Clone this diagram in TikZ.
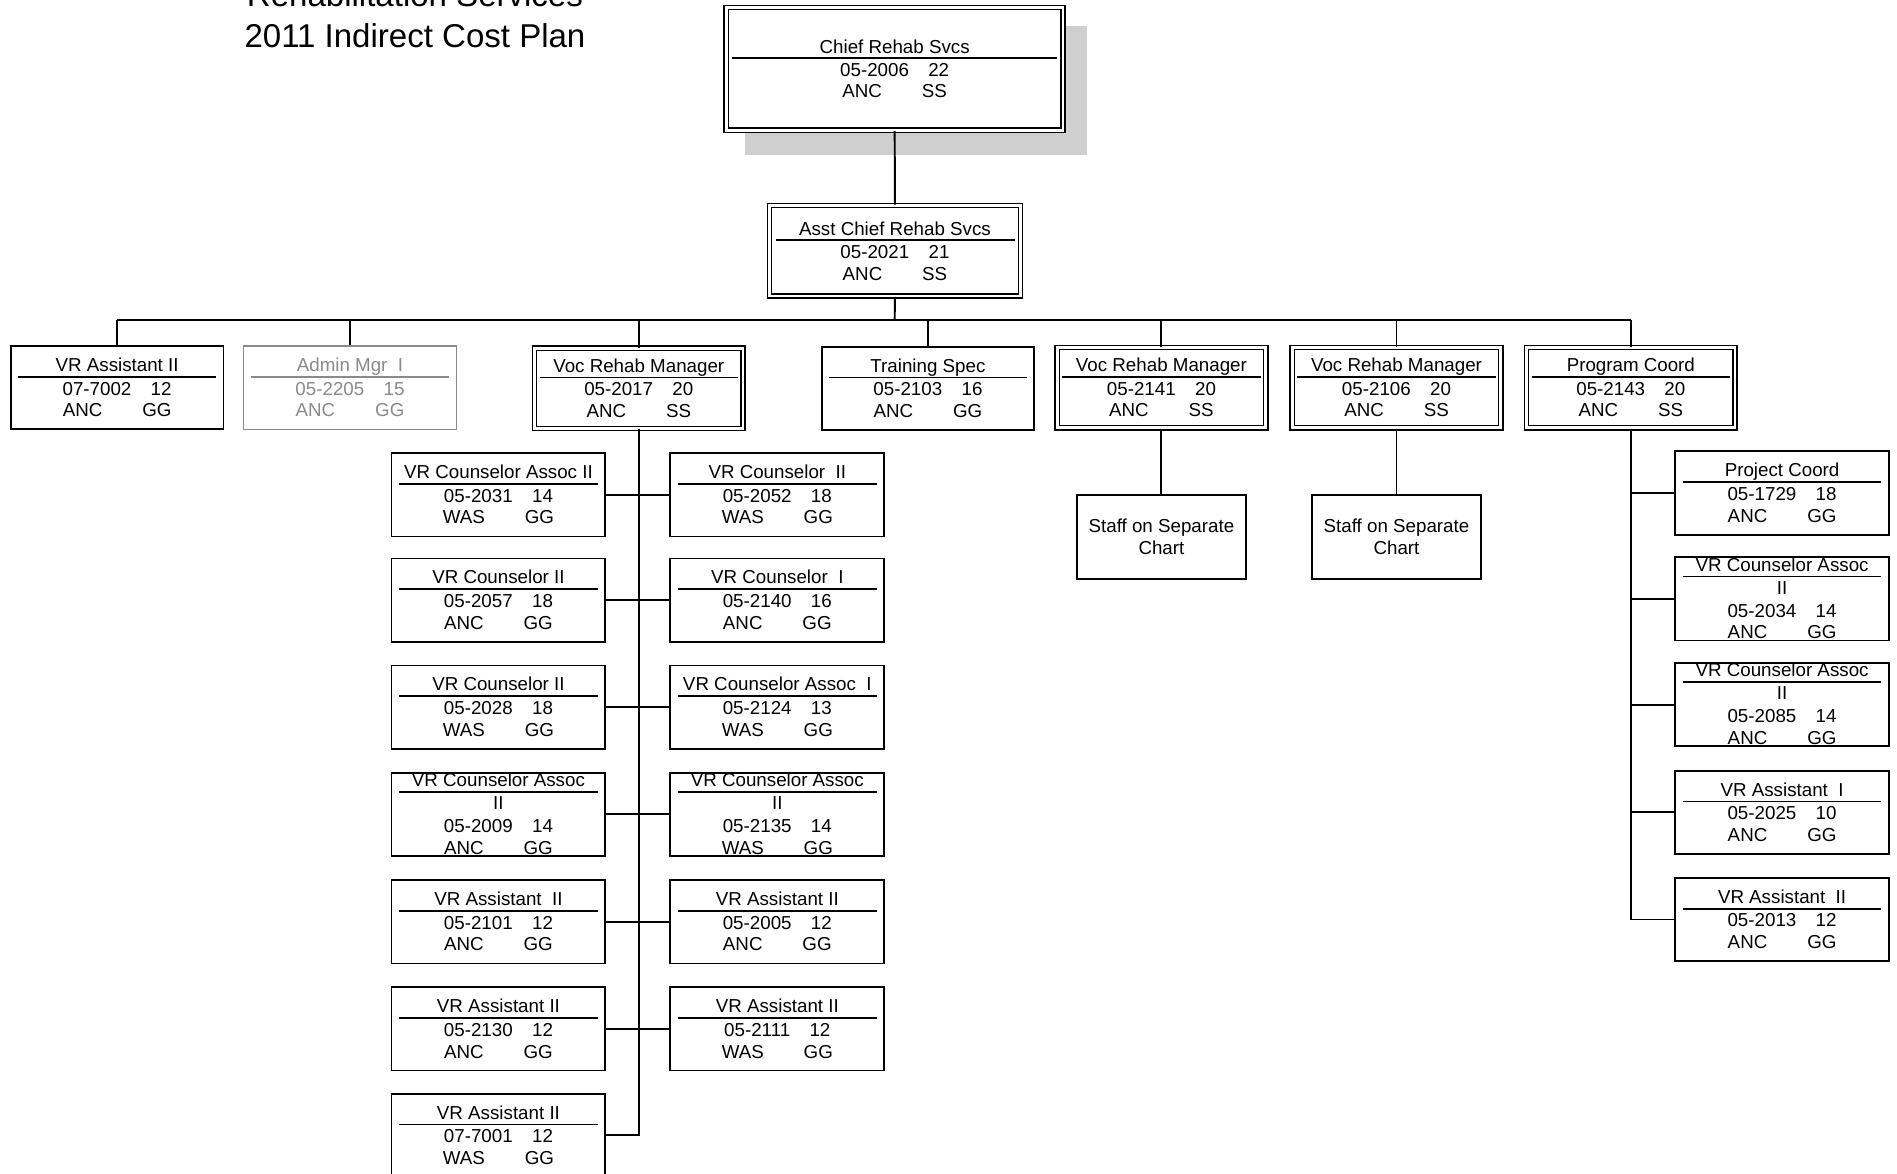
\documentclass[tikz,border=0pt]{standalone}
\usepackage{fontspec}
\setmainfont{Liberation Sans}
\usetikzlibrary{calc}
\definecolor{shadowgray}{HTML}{CFCFCF}
\definecolor{admgray}{HTML}{8A8A8A}
\newcommand\gA{\hspace{16pt}}
\newcommand\gB{\hspace{33pt}}
% #1 name, #2 box style, #3 center x, #4 top y, #5 title, #6 number line, #7 code line
\newcommand\posn[7]{%
  \node[#2] (#1) at (#3,#4+35) {};
  \node[txt] (#1-t) at (#3,#4+16) {#5};
  \draw[seprule] (#3-82,#4+26) -- (#3+82,#4+26);
  \node[txt] (#1-n) at (#3,#4+35.5) {#6};
  \node[txt] (#1-c) at (#3,#4+53.5) {#7};}
% wrapped title variant: title, rule, "II", number, code
\newcommand\posw[7]{%
  \node[#2] (#1) at (#3,#4+35) {};
  \node[txt] (#1-t) at (#3,#4+6.5) {#5};
  \draw[seprule] (#3-82,#4+16.5) -- (#3+82,#4+16.5);
  \node[txt] (#1-w) at (#3,#4+25.5) {II};
  \node[txt] (#1-n) at (#3,#4+44.5) {#6};
  \node[txt] (#1-c) at (#3,#4+62.5) {#7};}
\begin{document}
\begin{tikzpicture}[x=1pt,y=-1pt,
  plainbox/.style={draw, line width=1.5pt, fill=white, minimum width=175.8pt, minimum height=68.8pt, inner sep=0pt},
  colbox/.style={plainbox, minimum width=176.8pt},
  dblbox/.style={draw, line width=1.2pt, double, double distance=2.3pt, fill=white, minimum width=172.3pt, minimum height=66.3pt, inner sep=0pt},
  txt/.style={font=\fontsize{15.5}{18.6}\selectfont, inner sep=0pt, text height=11.1pt, text depth=0pt},
  seprule/.style={draw, line width=1.5pt},
  conn/.style={draw, line width=1.6pt},
  staffbox/.style={plainbox, minimum width=140pt, minimum height=69.5pt, align=center, font=\fontsize{15.5}{17.6}\selectfont},
  titletxt/.style={font=\fontsize{27.3}{32}\selectfont, anchor=base, inner sep=0pt},
]
\useasboundingbox (0,0) rectangle (1568,970);
\fill[white] (0,0) rectangle (1568,970);

% title
\node[titletxt] (title1) at (343,5.5) {Rehabilitation Services};
\node[titletxt] (title2) at (343,39) {2011 Indirect Cost Plan};

% chief
\fill[shadowgray] (616,21.5) rectangle (898.5,128);
\node[dblbox, minimum width=278.4pt, minimum height=101.4pt] (chief) at (739.5,57) {};
\node[txt] (chief-t) at (739.5,39) {Chief Rehab Svcs};
\draw[seprule] (605,48.2) -- (874,48.2);
\node[txt] (chief-n) at (739.5,57.3) {05-2006\gA 22};
\node[txt] (chief-c) at (739.5,75) {ANC\gB SS};

% assistant chief
\node[dblbox, minimum width=207.4pt, minimum height=74.9pt] (asst) at (739.75,207.25) {};
\node[txt] (asst-t) at (739.75,188.8) {Asst Chief Rehab Svcs};
\draw[seprule] (641.5,198.4) -- (839,198.4);
\node[txt] (asst-n) at (739.75,208) {05-2021\gA 21};
\node[txt] (asst-c) at (739.75,226) {ANC\gB SS};

% level 2
\posn{vra}{plainbox}{96.8}{285.5}{VR Assistant II}{07-7002\gA 12}{ANC\gB GG}
\begin{scope}[txt/.append style={text=admgray}, seprule/.append style={draw=admgray, line width=1.1pt}]
\posn{adm}{plainbox, draw=admgray, line width=1.1pt}{289.3}{285.5}{Admin Mgr\ \ I}{05-2205\gA 15}{ANC\gB GG}
\end{scope}
\posn{vrm1}{dblbox}{528}{286}{Voc Rehab Manager}{05-2017\gA 20}{ANC\gB SS}
\posn{ts}{plainbox}{767}{286}{Training Spec}{05-2103\gA 16}{ANC\gB GG}
\posn{vrm2}{dblbox}{960}{285.5}{Voc Rehab Manager}{05-2141\gA 20}{ANC\gB SS}
\posn{vrm3}{dblbox}{1154.3}{285.5}{Voc Rehab Manager}{05-2106\gA 20}{ANC\gB SS}
\posn{pc}{dblbox}{1348}{285.5}{Program Coord}{05-2143\gA 20}{ANC\gB SS}

% staff boxes
\node[staffbox] (st1) at (960,443.7) {Staff on Separate\\Chart};
\node[staffbox] (st2) at (1154.3,443.7) {Staff on Separate\\Chart};

% left columns under Voc Rehab Manager 05-2017
\posn{L1}{colbox}{412}{374}{VR Counselor Assoc II}{05-2031\gA 14}{WAS\gB GG}
\posn{L2}{colbox}{412}{461}{VR Counselor II}{05-2057\gA 18}{ANC\gB GG}
\posn{L3}{colbox}{412}{549.5}{VR Counselor II}{05-2028\gA 18}{WAS\gB GG}
\posw{L4}{colbox}{412}{638}{VR Counselor Assoc}{05-2009\gA 14}{ANC\gB GG}
\posn{L5}{colbox}{412}{727}{VR Assistant\ \ II}{05-2101\gA 12}{ANC\gB GG}
\posn{L6}{colbox}{412}{815.5}{VR Assistant II}{05-2130\gA 12}{ANC\gB GG}
\posn{L7}{colbox}{412}{903.5}{VR Assistant II}{07-7001\gA 12}{WAS\gB GG}

\posn{R1}{colbox}{642.5}{374}{VR Counselor\ \ II}{05-2052\gA 18}{WAS\gB GG}
\posn{R2}{colbox}{642.5}{461}{VR Counselor\ \ I}{05-2140\gA 16}{ANC\gB GG}
\posn{R3}{colbox}{642.5}{549.5}{VR Counselor Assoc\ \ I}{05-2124\gA 13}{WAS\gB GG}
\posw{R4}{colbox}{642.5}{638}{VR Counselor Assoc}{05-2135\gA 14}{WAS\gB GG}
\posn{R5}{colbox}{642.5}{727}{VR Assistant II}{05-2005\gA 12}{ANC\gB GG}
\posn{R6}{colbox}{642.5}{815.5}{VR Assistant II}{05-2111\gA 12}{WAS\gB GG}

% column under Program Coord
\posn{P1}{colbox}{1473}{372.5}{Project Coord}{05-1729\gA 18}{ANC\gB GG}
\posw{P2}{colbox}{1473}{460}{VR Counselor Assoc}{05-2034\gA 14}{ANC\gB GG}
\posw{P3}{colbox}{1473}{547.5}{VR Counselor Assoc}{05-2085\gA 14}{ANC\gB GG}
\posn{P4}{colbox}{1473}{636.5}{VR Assistant\ \ I}{05-2025\gA 10}{ANC\gB GG}
\posn{P5}{colbox}{1473}{725}{VR Assistant\ \ II}{05-2013\gA 12}{ANC\gB GG}

% connectors
\coordinate (bar) at (739.5,264.5);
\draw[conn] (chief.south) -- (asst.north);
\draw[conn] (asst.south) -- (bar);
\draw[conn] (bar -| vra.north) -- (bar -| pc.north);
\foreach \n in {vra,adm,vrm1,ts,vrm2,vrm3,pc} \draw[conn] (bar -| \n.north) -- (\n.north);
\draw[conn] (vrm2.south) -- (st1.north);
\draw[conn] (vrm3.south) -- (st2.north);
\draw[conn] (vrm1.south) -- (vrm1.south |- L7.east) -- (L7.east);
\foreach \i in {1,...,6} \draw[conn] (L\i.east) -- (R\i.west);
\draw[conn] (pc.south) -- (pc.south |- P5.west) -- (P5.west);
\foreach \i in {1,...,4} \draw[conn] (pc.south |- P\i.west) -- (P\i.west);
\end{tikzpicture}
\end{document}
